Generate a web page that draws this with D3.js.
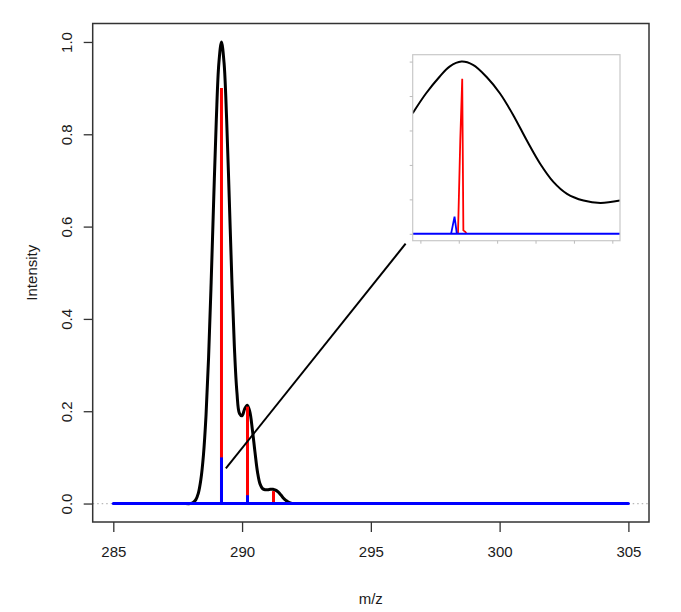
<!DOCTYPE html>
<html><head><meta charset="utf-8">
<script src="https://cdn.jsdelivr.net/npm/d3@7"></script>
<style>body{margin:0;background:#fff}svg{display:block}</style></head>
<body>
<svg id="c" width="681" height="612"></svg>
<script>
// ---- data ----
const xTicks = [285, 290, 295, 300, 305];
const yTicks = [0, 0.2, 0.4, 0.6, 0.8, 1.0];
const xLabel = "m/z";
const yLabel = "Intensity";

// black profile
const profileMz  = [287.8,288.0,288.1,288.2,288.3,288.4,288.5,288.6,288.7,288.8,288.9,289.0,289.1,289.2,289.3,289.4,289.5,289.6,289.7,289.8,289.9,290.0,290.1,290.2,290.3,290.4,290.5,290.6,290.7,290.8,290.9,291.0,291.1,291.2,291.3,291.4,291.5,291.6,291.7,291.8,291.9,292.0,292.2];
const profileInt = [0,0,0.002,0.008,0.022,0.052,0.105,0.191,0.317,0.480,0.662,0.832,0.955,1.0,0.955,0.833,0.665,0.490,0.341,0.241,0.195,0.190,0.205,0.213,0.199,0.160,0.112,0.068,0.042,0.032,0.030,0.030,0.031,0.031,0.029,0.025,0.019,0.012,0.007,0.003,0.001,0,0];

// red sticks
const redMz  = [289.2, 290.21, 291.22];
const redInt = [0.90, 0.21, 0.027];
// blue sticks
const blueMz  = [289.2, 290.21, 291.22];
const blueInt = [0.10, 0.018, 0.003];
const baselineMz = [285, 305];

// pointer line (data coords of main plot)
const pointerFrom = [289.37, 0.076];
const pointerTo   = [296.35, 0.563];

// inset (arbitrary zoomed units)
const insetXTicks = [0, 1, 2, 3, 4, 5];
const insetYTicks = [0, 0.2, 0.4, 0.6, 0.8, 1.0];
const insetCurveX = [-0.2, 0.15, 0.5, 0.76, 1.07, 1.37, 1.72, 2.07, 2.42, 2.77, 3.12, 3.47, 3.82, 4.25, 4.69, 5.2];
const insetCurveY = [0.70, 0.816, 0.912, 0.971, 1.0, 0.981, 0.912, 0.816, 0.689, 0.543, 0.407, 0.30, 0.232, 0.193, 0.179, 0.193];
const insetRedX = [0.98, 1.04, 1.09, 1.12, 1.17, 1.20];
const insetRedY = [0, 0.55, 0.90, 0.02, 0.012, 0];
const insetBlueX = [0.80, 0.89, 0.95];
const insetBlueY = [0, 0.10, 0];
const insetBaseX = [-0.2, 5.2];

// ---- drawing ----
const svg = d3.select("#c");
const font = "'Liberation Sans', Arial, sans-serif";
const txt = "#1a1a1a";

const x = d3.scaleLinear().domain([284.2, 305.8]).range([92.7, 649]);
const y = d3.scaleLinear().domain([-0.04, 1.04]).range([522, 23.5]);

// zero dotted gray line
svg.append("line").attr("x1", 92.7).attr("x2", 649).attr("y1", y(0)).attr("y2", y(0))
  .attr("stroke", "#b8b8b8").attr("stroke-width", 1.2).attr("stroke-dasharray", "1.5,3");

// black profile
const line = d3.line().x(d => x(d[0])).y(d => y(d[1])).curve(d3.curveCatmullRom.alpha(0.5));
svg.append("path").datum(profileMz.map((m, i) => [m, profileInt[i]]))
  .attr("d", line).attr("fill", "none").attr("stroke", "#000").attr("stroke-width", 3)
  .attr("stroke-linejoin", "round");

// red sticks
svg.selectAll(".red").data(redMz.map((m, i) => [m, redInt[i]])).enter().append("line")
  .attr("x1", d => x(d[0])).attr("x2", d => x(d[0])).attr("y1", y(0)).attr("y2", d => y(d[1]))
  .attr("stroke", "#ff0000").attr("stroke-width", 3);

// blue baseline & sticks
svg.append("line").attr("x1", x(baselineMz[0])).attr("x2", x(baselineMz[1]))
  .attr("y1", y(0)).attr("y2", y(0)).attr("stroke", "#0000ff").attr("stroke-width", 3)
  .attr("stroke-linecap", "round");
svg.selectAll(".blue").data(blueMz.map((m, i) => [m, blueInt[i]])).enter().append("line")
  .attr("x1", d => x(d[0])).attr("x2", d => x(d[0])).attr("y1", y(0)).attr("y2", d => y(d[1]))
  .attr("stroke", "#0000ff").attr("stroke-width", 3);

// pointer line
svg.append("line").attr("x1", x(pointerFrom[0])).attr("y1", y(pointerFrom[1]))
  .attr("x2", x(pointerTo[0])).attr("y2", y(pointerTo[1]))
  .attr("stroke", "#000").attr("stroke-width", 2);

// frame
svg.append("rect").attr("x", 92.7).attr("y", 23.5).attr("width", 649 - 92.7).attr("height", 522 - 23.5)
  .attr("fill", "none").attr("stroke", "#333").attr("stroke-width", 1.5);

// axes
const gx = svg.append("g").attr("transform", "translate(0,522)")
  .call(d3.axisBottom(x).tickValues(xTicks).tickSize(10).tickPadding(14).tickFormat(d3.format("d")));
gx.select(".domain").remove();
gx.selectAll("line").attr("stroke", "#333").attr("stroke-width", 1.3);
gx.selectAll("text").attr("font-family", font).attr("font-size", 15).attr("fill", txt);

const gy = svg.append("g").attr("transform", "translate(92.7,0)")
  .call(d3.axisLeft(y).tickValues(yTicks).tickSize(9).tickFormat(d3.format(".1f")));
gy.select(".domain").remove();
gy.selectAll("line").attr("stroke", "#333").attr("stroke-width", 1.3);
gy.selectAll("text").attr("font-family", font).attr("font-size", 15).attr("fill", txt)
  .attr("x", null).attr("dy", null).attr("text-anchor", "middle")
  .attr("transform", "translate(-21,0) rotate(-90)")
  .attr("y", 0);

svg.append("text").attr("x", 370.8).attr("y", 604).attr("text-anchor", "middle")
  .attr("font-family", font).attr("font-size", 15).attr("fill", txt).text(xLabel);
svg.append("text").attr("transform", "translate(37,272.7) rotate(-90)").attr("text-anchor", "middle")
  .attr("font-family", font).attr("font-size", 15).attr("fill", txt).text(yLabel);

// ---- inset ----
const ix = d3.scaleLinear().domain([-0.2, 5.2]).range([412.7, 620]);
const iy = d3.scaleLinear().domain([-0.04, 1.04]).range([240.7, 54.7]);
const inset = svg.append("g");
inset.append("rect").attr("x", 412.7).attr("y", 54.7).attr("width", 620 - 412.7).attr("height", 240.7 - 54.7)
  .attr("fill", "#fff");
svg.append("clipPath").attr("id", "ic").append("rect")
  .attr("x", 412.7).attr("y", 54.7).attr("width", 620 - 412.7).attr("height", 240.7 - 54.7);
const ig = inset.append("g").attr("clip-path", "url(#ic)");
const iline = d3.line().x(d => ix(d[0])).y(d => iy(d[1]));
ig.append("path").datum(insetCurveX.map((v, i) => [v, insetCurveY[i]]))
  .attr("d", iline.curve(d3.curveCatmullRom.alpha(0.5))).attr("fill", "none").attr("stroke", "#000").attr("stroke-width", 2);
ig.append("path").datum(insetRedX.map((v, i) => [v, insetRedY[i]]))
  .attr("d", d3.line().x(d => ix(d[0])).y(d => iy(d[1]))).attr("fill", "none").attr("stroke", "#ff0000").attr("stroke-width", 1.8);
ig.append("path").datum(insetBlueX.map((v, i) => [v, insetBlueY[i]]))
  .attr("d", d3.line().x(d => ix(d[0])).y(d => iy(d[1]))).attr("fill", "none").attr("stroke", "#0000ff").attr("stroke-width", 1.8);
ig.append("line").attr("x1", ix(insetBaseX[0])).attr("x2", ix(insetBaseX[1]))
  .attr("y1", iy(0)).attr("y2", iy(0)).attr("stroke", "#0000ff").attr("stroke-width", 2);
inset.append("rect").attr("x", 412.7).attr("y", 54.7).attr("width", 620 - 412.7).attr("height", 240.7 - 54.7)
  .attr("fill", "none").attr("stroke", "#c8c8c8").attr("stroke-width", 1.2);
const igx = inset.append("g").attr("transform", "translate(0,240.7)")
  .call(d3.axisBottom(ix).tickValues(insetXTicks).tickSize(3).tickFormat(""));
igx.select(".domain").remove();
igx.selectAll("line").attr("stroke", "#bbb");
const igy = inset.append("g").attr("transform", "translate(412.7,0)")
  .call(d3.axisLeft(iy).tickValues(insetYTicks).tickSize(3).tickFormat(""));
igy.select(".domain").remove();
igy.selectAll("line").attr("stroke", "#bbb");
</script>
</body></html>
